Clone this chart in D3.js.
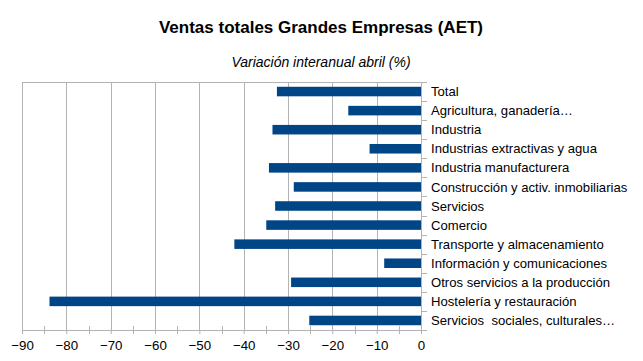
<!DOCTYPE html>
<html>
<head>
<meta charset="utf-8">
<script src="https://cdn.jsdelivr.net/npm/d3@7"></script>
<style>
  body { margin: 0; background: #fff; }
  text { font-family: "Liberation Sans", Arial, sans-serif; }
</style>
</head>
<body>
<svg id="chart" width="643" height="361"></svg>
<script>
const categories = [
  "Total",
  "Agricultura, ganadería…",
  "Industria",
  "Industrias extractivas y agua",
  "Industria manufacturera",
  "Construcción y activ. inmobiliarias",
  "Servicios",
  "Comercio",
  "Transporte y almacenamiento",
  "Información y comunicaciones",
  "Otros servicios a la producción",
  "Hostelería y restauración",
  "Servicios  sociales, culturales…"
];
const values = [-32.5, -16.4, -33.5, -11.6, -34.3, -28.7, -32.9, -34.9, -42.1, -8.3, -29.3, -83.8, -25.2];
const xTicks = [-90, -80, -70, -60, -50, -40, -30, -20, -10, 0];

const svg = d3.select("#chart");
const margin = { top: 82, right: 222, bottom: 31, left: 22 };
const width = 643 - margin.left - margin.right;
const height = 361 - margin.top - margin.bottom;

svg.append("text")
  .attr("x", 321).attr("y", 33)
  .attr("text-anchor", "middle")
  .attr("font-size", 17).attr("font-weight", "bold")
  .text("Ventas totales Grandes Empresas (AET)");

svg.append("text")
  .attr("x", 321).attr("y", 67)
  .attr("text-anchor", "middle")
  .attr("font-size", 14).attr("font-style", "italic")
  .text("Variación interanual abril (%)");

const g = svg.append("g").attr("transform", `translate(${margin.left},${margin.top})`);

const x = d3.scaleLinear().domain([-90, 0]).range([0, width]);
const y = d3.scaleBand().domain(categories).range([0, height]).paddingInner(0.5).paddingOuter(0.25);

// grid
g.selectAll(".grid")
  .data(xTicks)
  .enter()
  .append("line")
  .attr("x1", d => Math.round(x(d)) + 0.5)
  .attr("x2", d => Math.round(x(d)) + 0.5)
  .attr("y1", 0)
  .attr("y2", height)
  .attr("stroke", "#b3b3b3");

g.append("line")
  .attr("x1", 0).attr("x2", width)
  .attr("y1", 0.5).attr("y2", 0.5)
  .attr("stroke", "#b3b3b3");

// bars
g.selectAll("rect")
  .data(values)
  .enter()
  .append("rect")
  .attr("x", d => x(d))
  .attr("y", (d, i) => y(categories[i]))
  .attr("width", d => x(0) - x(d))
  .attr("height", y.bandwidth())
  .attr("fill", "#004586");

// bottom axis
const xAxis = g.append("g")
  .attr("transform", `translate(0,${height})`)
  .call(d3.axisBottom(x).tickValues(xTicks).tickSize(4).tickPadding(7).tickFormat(d3.format("d")));
xAxis.select(".domain").attr("stroke", "#b3b3b3");
xAxis.selectAll(".tick line").attr("stroke", "#b3b3b3");
xAxis.selectAll("text").attr("font-size", 13.3).attr("fill", "#000")
  .style("font-family", "'Liberation Sans', Arial, sans-serif");

const minor = d3.range(-85, 0, 10);
g.selectAll(".minor")
  .data(minor)
  .enter()
  .append("line")
  .attr("x1", d => Math.round(x(d)) + 0.5)
  .attr("x2", d => Math.round(x(d)) + 0.5)
  .attr("y1", height - 4)
  .attr("y2", height + 4)
  .attr("stroke", "#b3b3b3");

// category axis at zero
const bounds = d3.range(categories.length + 1).map(i => i * height / categories.length);
g.append("line")
  .attr("x1", x(0) + 0.5).attr("x2", x(0) + 0.5)
  .attr("y1", 0).attr("y2", height + 4)
  .attr("stroke", "#b3b3b3");
g.selectAll(".ctick")
  .data(bounds)
  .enter()
  .append("line")
  .attr("x1", x(0))
  .attr("x2", x(0) + 6)
  .attr("y1", d => Math.round(d) + 0.5)
  .attr("y2", d => Math.round(d) + 0.5)
  .attr("stroke", "#b3b3b3");

g.selectAll(".clabel")
  .data(categories)
  .enter()
  .append("text")
  .attr("x", x(0) + 10)
  .attr("y", d => y(d) + y.bandwidth() / 2)
  .attr("dy", "0.35em")
  .attr("font-size", 13.1)
  .style("white-space", "pre")
  .text(d => d);
</script>
</body>
</html>
